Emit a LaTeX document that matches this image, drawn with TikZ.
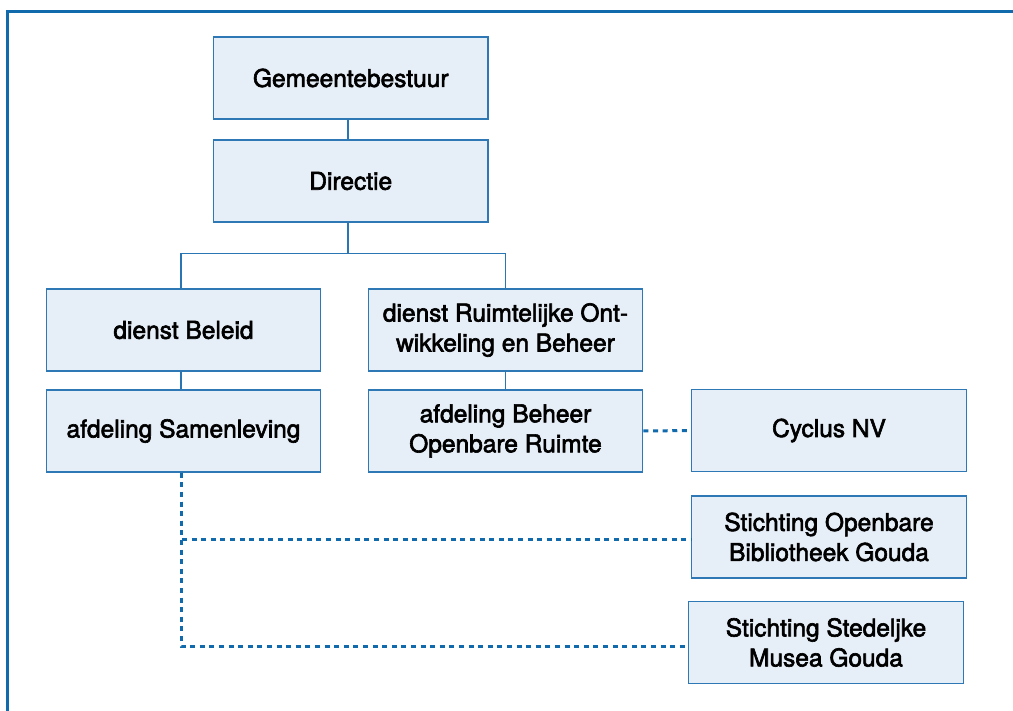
\documentclass[tikz,border=0pt]{standalone}
\usepackage{fontspec}
\setmainfont{TeX Gyre Heros}
\newfontfamily\boxfont{TeX Gyre Heros}[FakeBold=2.5]
\definecolor{frameblue}{HTML}{106AAC}
\definecolor{boxfill}{HTML}{E6EEF7}
\definecolor{boxline}{HTML}{2E78B5}
\definecolor{linkblue}{HTML}{2A76B4}
\tikzset{
  orgbox/.style={draw=boxline, line width=1.4pt, fill=boxfill, rectangle,
    minimum width=274.5pt, minimum height=82pt, inner sep=0pt, align=center,
    font=\boxfont\fontsize{24.5}{30}\selectfont, text=black},
  solidlink/.style={draw=linkblue, line width=1.3pt},
  dashlink/.style={draw=frameblue, line width=3pt, dash pattern=on 5pt off 4.6pt},
  frameline/.style={draw=frameblue, line width=2.8pt}
}
\begin{document}
\begin{tikzpicture}[x=1pt, y=-1pt]
\useasboundingbox (0,0) rectangle (1013,711);
% frame
\coordinate (fbl) at (7.3,712);
\coordinate (ftl) at (7.3,11.3);
\coordinate (ftr) at (1014,11.3);
\draw[frameline] (fbl) -- (ftl) -- (ftr);
% boxes
\node[orgbox] (gem) at (350.75,78) {Gemeentebestuur};
\node[orgbox] (dir) at (350.75,181) {Directie};
\node[orgbox] (beleid) at (183.5,330) {dienst Beleid};
\node[orgbox] (ruimte) at (505.5,330) {dienst Ruimtelijke Ont-\\wikkeling en Beheer};
\node[orgbox] (samen) at (183.5,431) {afdeling Samenleving};
\node[orgbox] (beheer) at (505.5,431) {afdeling Beheer\\Openbare Ruimte};
\node[orgbox] (cyclus) at (829,430.5) {Cyclus NV};
\node[orgbox] (bib) at (829,537) {Stichting Openbare\\Bibliotheek Gouda};
\node[orgbox] (musea) at (826,642.5) {Stichting Stedeljke\\Musea Gouda};
% solid connectors
\draw[solidlink] ([xshift=-2.75pt]gem.south) -- ([xshift=-2.75pt]dir.north);
\coordinate (split) at ([xshift=-2.75pt,yshift=-31pt]dir.south);
\draw[solidlink] ([xshift=-2.75pt]dir.south) -- (split);
\draw[solidlink] (split) -| ([xshift=-2.5pt]beleid.north);
\draw[solidlink] (split) -| (ruimte.north);
\draw[solidlink] ([xshift=-2.5pt]beleid.south) -- ([xshift=-2.5pt]samen.north);
\draw[solidlink] (ruimte.south) -- (beheer.north);
% dashed connectors
\draw[dashlink] (beheer.east) -- (cyclus.west);
\draw[dashlink] ([xshift=-2.5pt]samen.south) |- ([yshift=-2pt]bib.west);
\draw[dashlink] ([xshift=-2.5pt]samen.south) |- ([yshift=-3.5pt]musea.west);
\end{tikzpicture}
\end{document}
